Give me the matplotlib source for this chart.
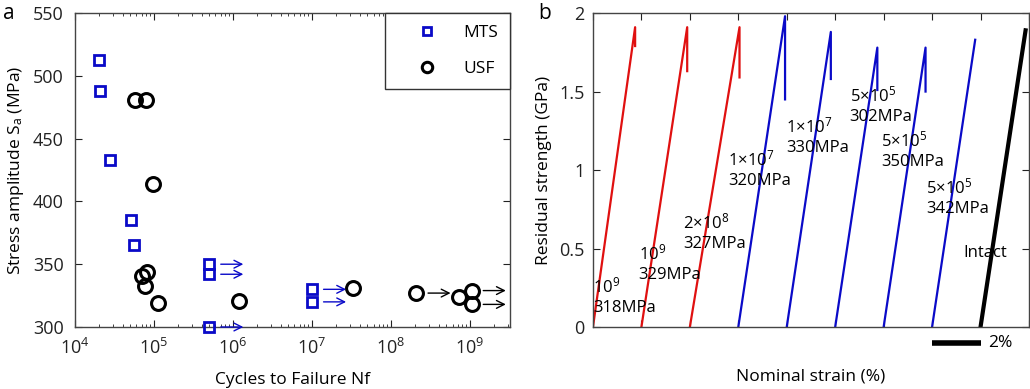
import numpy as np
import matplotlib
matplotlib.use("Agg")
import matplotlib.pyplot as plt

plt.rcParams['font.family'] = ['Open Sans', 'DejaVu Sans']
plt.rcParams['mathtext.fontset'] = 'custom'
plt.rcParams['mathtext.rm'] = 'Open Sans'
plt.rcParams['mathtext.it'] = 'Open Sans:italic'
plt.rcParams['font.size'] = 12

# ---- panel a: S-N data ----
mts_cycles = [2.0e4, 2.07e4, 2.8e4, 5.07e4, 5.6e4, 5e5, 5e5, 5e5, 1e7, 1e7]
mts_stress = [513, 488, 433, 385, 365, 350, 342, 300, 330, 320]
mts_runout = [False, False, False, False, False, True, True, True, True, True]

usf_cycles = [5.7e4, 7.85e4, 9.8e4, 7.0e4, 8.1e4, 7.6e4, 1.14e5, 1.18e6,
              3.27e7, 2.1e8, 7.3e8, 1.05e9, 1.05e9]
usf_stress = [481, 481, 414, 341, 343.5, 333, 319, 321,
              331, 327, 324, 329, 318]
usf_runout = [False] * 9 + [True, False, True, True]

# ---- panel b: residual strength curves ----
start_strain = [0, 2, 4, 6, 8, 10, 12, 14, 16]
peak_strain = [1.74, 3.89, 6.05, 7.93, 9.82, 11.74, 13.73, 15.78, 17.86]
peak_stress = [1.91, 1.91, 1.91, 1.98, 1.88, 1.78, 1.78, 1.83, 1.89]
drop_stress = [1.79, 1.63, 1.59, 1.45, 1.58, 1.51, 1.50, np.nan, np.nan]
group = ['red', 'red', 'red', 'blue', 'blue', 'blue', 'blue', 'blue', 'black']

labels_b = ['10$^9$\n318MPa', '10$^9$\n329MPa', '2×10$^8$\n327MPa',
            '1×10$^7$\n320MPa', '1×10$^7$\n330MPa', '5×10$^5$\n302MPa',
            '5×10$^5$\n350MPa', '5×10$^5$\n342MPa', 'Intact']
label_x = [0.0, 1.88, 3.73, 5.58, 7.97, 10.6, 11.9, 13.75, 15.3]
label_y = [0.07, 0.28, 0.48, 0.88, 1.09, 1.29, 1.00, 0.70, 0.42]

BLUE = '#0a0ac8'
RED = '#e01010'
colors = {'red': RED, 'blue': BLUE, 'black': 'black'}

fig = plt.figure(figsize=(10.3, 3.89), dpi=100)
axa = fig.add_axes([0.0728, 0.1594, 0.4223, 0.807])
axb = fig.add_axes([0.5757, 0.1594, 0.4233, 0.807])

# panel a
axa.plot(mts_cycles, mts_stress, 's', ms=7.5, mfc='none', mec=BLUE, mew=2,
         label='MTS', clip_on=False, zorder=3)
axa.plot(usf_cycles, usf_stress, 'o', ms=10, mfc='none', mec='black', mew=2.2,
         label='USF', clip_on=False, zorder=3)

def runout_arrows(ax, xs, ys, flags, color):
    for x, y, f in zip(xs, ys, flags):
        if f:
            ax.annotate('', xy=(x * 2.7, y), xytext=(x * 1.4, y),
                        arrowprops=dict(arrowstyle='->', color=color, lw=1,
                                        shrinkA=0, shrinkB=0, mutation_scale=14),
                        annotation_clip=False)

runout_arrows(axa, mts_cycles, mts_stress, mts_runout, BLUE)
runout_arrows(axa, usf_cycles, usf_stress, usf_runout, 'black')

axa.set_xscale('log')
axa.set_xlim(1e4, 3.2e9)
axa.set_ylim(300, 550)
axa.set_yticks([300, 350, 400, 450, 500, 550])
axa.set_xticks([1e4, 1e5, 1e6, 1e7, 1e8, 1e9])
axa.tick_params(which='both', direction='in', top=True, right=True,
                labelsize=13, colors='#222222')
axa.tick_params(which='major', length=5)
axa.tick_params(which='minor', length=2.5)
axa.tick_params(axis='x', which='major', pad=8)
axa.tick_params(axis='y', which='major', pad=8)
axa.set_xlabel('Cycles to Failure Nf', fontsize=12.5, labelpad=10)
axa.set_ylabel('Stress amplitude S$_\\mathrm{a}$ (MPa)', fontsize=12.5, labelpad=5)
leg = axa.legend(loc='upper right', borderaxespad=0, fancybox=False,
                 edgecolor='#333333', framealpha=1, markerscale=0.75,
                 handlelength=3.5, handletextpad=0.3, borderpad=0.7,
                 labelspacing=1.1, fontsize=12.5)
leg.get_frame().set_linewidth(1.0)

# panel b
for i in range(len(start_strain)):
    xs = [start_strain[i], peak_strain[i]]
    ys = [0, peak_stress[i]]
    if not np.isnan(drop_stress[i]):
        xs.append(peak_strain[i])
        ys.append(drop_stress[i])
    lw = 3 if group[i] == 'black' else 1.6
    axb.plot(xs, ys, color=colors[group[i]], lw=lw)

for t, x, y in zip(labels_b, label_x, label_y):
    axb.text(x, y, t, fontsize=12, ha='left', va='bottom', linespacing=1.3)

axb.set_xlim(0, 18)
axb.set_ylim(0, 2)
axb.set_xticks(np.arange(0, 19, 2))
axb.set_xticklabels([])
axb.set_yticks([0, 0.5, 1, 1.5, 2])
axb.set_yticklabels(['0', '0.5', '1', '1.5', '2'])
axb.tick_params(direction='in', top=True, right=True, length=5,
                labelsize=13, colors='#222222', pad=6)
axb.set_xlabel('Nominal strain (%)', fontsize=12.5, labelpad=24)
axb.set_ylabel('Residual strength (GPa)', fontsize=12.5, labelpad=5)

# scale bar: 2% strain
axb.plot([14, 16], [-0.1, -0.1], color='black', lw=4, clip_on=False,
         solid_capstyle='butt')
axb.text(16.3, -0.1, '2%', fontsize=12.5, va='center', ha='left')

for ax in (axa, axb):
    for s in ax.spines.values():
        s.set_color('#444444')
        s.set_linewidth(1.0)

fig.text(0.003, 0.965, 'a', fontsize=15, va='center')
fig.text(0.523, 0.965, 'b', fontsize=15, va='center')

fig.savefig('out.png', dpi=100)
